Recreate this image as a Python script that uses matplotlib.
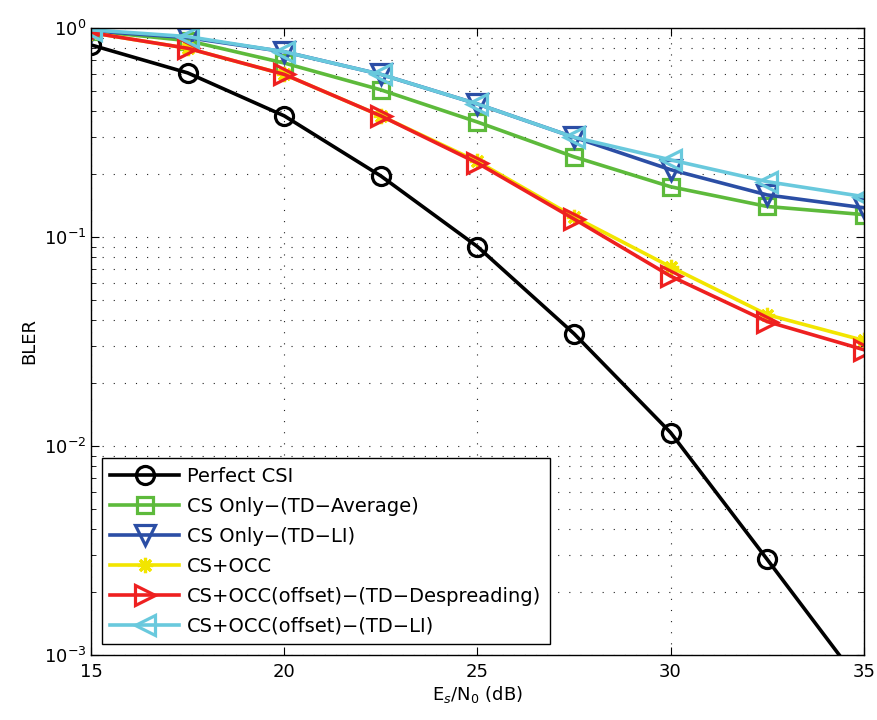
import numpy as np
import matplotlib.pyplot as plt

snr = [15, 17.5, 20, 22.5, 25, 27.5, 30, 32.5, 35]

perfect_csi = [0.83, 0.61, 0.38, 0.196, 0.09, 0.0345, 0.0116, 0.00287, 0.0007]
cs_td_average = [0.97, 0.87, 0.68, 0.506, 0.355, 0.242, 0.174, 0.14, 0.128]
cs_td_li = [0.97, 0.9, 0.77, 0.6, 0.433, 0.30, 0.21, 0.159, 0.138]
cs_occ = [0.95, 0.80, 0.6, 0.38, 0.23, 0.125, 0.072, 0.0425, 0.032]
cs_occ_desp = [0.95, 0.80, 0.6, 0.38, 0.226, 0.122, 0.065, 0.0394, 0.0289]
cs_occ_li = [0.98, 0.91, 0.77, 0.6, 0.433, 0.30, 0.234, 0.184, 0.156]

labels = ['Perfect CSI', 'CS Only\u2212(TD\u2212Average)', 'CS Only\u2212(TD\u2212LI)',
          'CS+OCC', 'CS+OCC(offset)\u2212(TD\u2212Despreading)', 'CS+OCC(offset)\u2212(TD\u2212LI)']

fig = plt.figure(figsize=(8.78, 7.2), dpi=100)
ax = fig.add_axes([0.1037, 0.0903, 0.880, 0.8708])

lw = 2.6
mew = 2.3
ax.plot(snr, perfect_csi, color='black', marker='o', markerfacecolor='none',
        lw=lw, ms=13, mew=mew, label=labels[0])
ax.plot(snr, cs_td_average, color='#5dba3b', marker='s', markerfacecolor='none',
        lw=lw, ms=11, mew=mew, label=labels[1])
ax.plot(snr, cs_td_li, color='#2b4ea5', marker='v', markerfacecolor='none',
        lw=lw, ms=15, mew=mew, label=labels[2])
ax.plot(snr, cs_occ, color='#f2e500', marker=(8, 2, 0), markerfacecolor='none',
        lw=lw, ms=11, mew=mew, label=labels[3])
ax.plot(snr, cs_occ_desp, color='#ee2020', marker='>', markerfacecolor='none',
        lw=lw, ms=15, mew=mew, label=labels[4])
ax.plot(snr, cs_occ_li, color='#69c9dd', marker='<', markerfacecolor='none',
        lw=lw, ms=15, mew=mew, label=labels[5])

ax.set_yscale('log')
ax.set_xlim(15, 35)
ax.set_ylim(1e-3, 1)
ax.set_xticks([15, 20, 25, 30, 35])
ax.grid(True, which='major', linestyle=(0, (1, 9)), color='#222222', linewidth=0.8)
ax.grid(True, which='minor', axis='y', linestyle=(0, (1, 9)), color='#222222', linewidth=0.8)
ax.set_axisbelow(True)
ax.tick_params(which='both', direction='in', top=True, right=True, labelsize=13)
ax.tick_params(axis='x', pad=6)
ax.tick_params(which='major', length=6)
ax.tick_params(which='minor', length=3.5)
for s in ax.spines.values():
    s.set_linewidth(1.0)

ax.set_xlabel('E$_s$/N$_0$ (dB)', fontsize=13, labelpad=2)
ax.set_ylabel('BLER', fontsize=13, labelpad=4)

leg = ax.legend(loc='lower left', fontsize=14, fancybox=False, edgecolor='black',
                framealpha=1, handlelength=3.5, handletextpad=0.45,
                borderaxespad=0.55, labelspacing=0.56, borderpad=0.45)
leg.get_frame().set_linewidth(1.0)

fig.savefig('out.png', dpi=100)
